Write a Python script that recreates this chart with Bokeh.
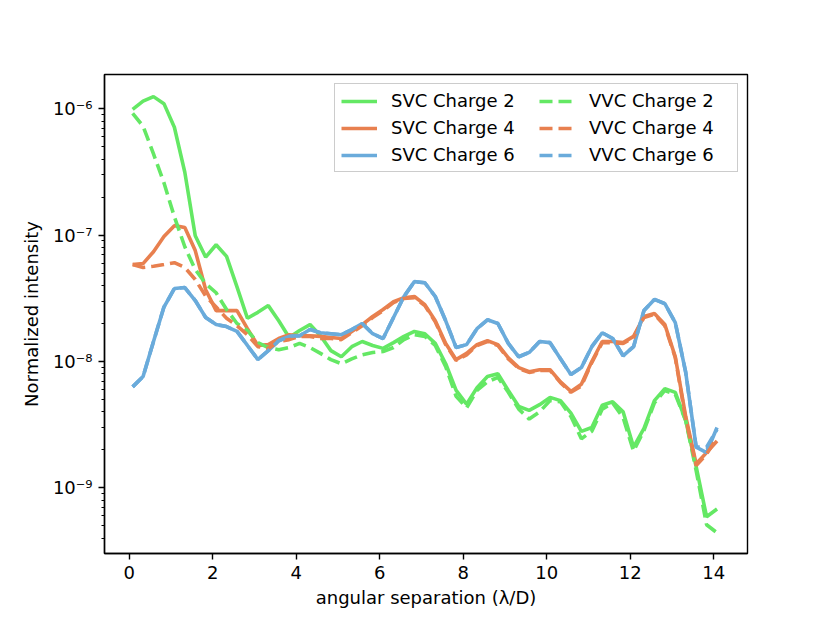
from bokeh.plotting import figure
from bokeh.models import Range1d, FixedTicker, CustomJSTickFormatter, Legend, LegendItem
from bokeh.embed import file_html
from bokeh.resources import INLINE

# angular separation (lambda/D)
x = [0.08, 0.33, 0.58, 0.83, 1.08, 1.33, 1.58, 1.83, 2.08, 2.33,
     2.58, 2.83, 3.08, 3.33, 3.58, 3.83, 4.08, 4.33, 4.58, 4.83,
     5.08, 5.33, 5.58, 5.83, 6.08, 6.33, 6.58, 6.83, 7.08, 7.33,
     7.58, 7.83, 8.08, 8.33, 8.58, 8.83, 9.08, 9.33, 9.58, 9.83,
     10.08, 10.33, 10.58, 10.83, 11.08, 11.33, 11.58, 11.83, 12.08, 12.33,
     12.58, 12.83, 13.08, 13.33, 13.58, 13.83, 14.08]

svc2 = [9.9e-7, 1.15e-6, 1.25e-6, 1.1e-6, 7.15e-7, 3.15e-7, 9.9e-8, 6.7e-8, 8.4e-8, 6.8e-8,
        3.9e-8, 2.2e-8, 2.45e-8, 2.77e-8, 2.1e-8, 1.55e-8, 1.76e-8, 1.96e-8, 1.6e-8, 1.22e-8,
        1.09e-8, 1.31e-8, 1.44e-8, 1.34e-8, 1.27e-8, 1.41e-8, 1.58e-8, 1.73e-8, 1.66e-8, 1.39e-8,
        9.6e-9, 5.9e-9, 4.6e-9, 6.2e-9, 7.6e-9, 8.0e-9, 5.9e-9, 4.4e-9, 4.1e-9, 4.55e-9,
        5.2e-9, 4.9e-9, 3.9e-9, 2.8e-9, 3.0e-9, 4.5e-9, 4.8e-9, 4.0e-9, 2.1e-9, 2.95e-9,
        4.9e-9, 6.1e-9, 5.7e-9, 3.4e-9, 1.47e-9, 5.9e-10, 6.8e-10]

svc4 = [5.85e-8, 5.96e-8, 7.4e-8, 9.75e-8, 1.19e-7, 1.15e-7, 7.55e-8, 3.7e-8, 2.53e-8, 2.53e-8,
        2.53e-8, 1.82e-8, 1.34e-8, 1.36e-8, 1.52e-8, 1.63e-8, 1.6e-8, 1.6e-8, 1.58e-8, 1.55e-8,
        1.52e-8, 1.73e-8, 1.96e-8, 2.27e-8, 2.58e-8, 2.98e-8, 3.2e-8, 3.27e-8, 2.82e-8, 2.1e-8,
        1.39e-8, 1.035e-8, 1.16e-8, 1.36e-8, 1.46e-8, 1.36e-8, 1.07e-8, 8.95e-9, 8.3e-9, 8.6e-9,
        8.6e-9, 6.9e-9, 5.8e-9, 6.6e-9, 1.0e-8, 1.44e-8, 1.44e-8, 1.41e-8, 1.58e-8, 2.27e-8,
        2.4e-8, 1.96e-8, 1.09e-8, 3.67e-9, 1.55e-9, 1.9e-9, 2.35e-9]

svc6 = [6.3e-9, 7.6e-9, 1.44e-8, 2.7e-8, 3.78e-8, 3.85e-8, 3.04e-8, 2.23e-8, 1.96e-8, 1.89e-8,
        1.73e-8, 1.34e-8, 1.035e-8, 1.22e-8, 1.46e-8, 1.58e-8, 1.6e-8, 1.79e-8, 1.69e-8, 1.66e-8,
        1.63e-8, 1.79e-8, 2.0e-8, 1.66e-8, 1.52e-8, 2.23e-8, 3.27e-8, 4.29e-8, 4.2e-8, 3.27e-8,
        2.1e-8, 1.29e-8, 1.36e-8, 1.82e-8, 2.14e-8, 2.0e-8, 1.39e-8, 1.09e-8, 1.18e-8, 1.44e-8,
        1.41e-8, 1.05e-8, 7.9e-9, 8.95e-9, 1.31e-8, 1.69e-8, 1.52e-8, 1.11e-8, 1.31e-8, 2.53e-8,
        3.1e-8, 2.87e-8, 2.03e-8, 8.2e-9, 2.1e-9, 1.9e-9, 3.0e-9]

vvc2 = [9.2e-7, 7.3e-7, 4.4e-7, 2.6e-7, 1.4e-7, 8.1e-8, 5.34e-8, 4.14e-8, 3.5e-8, 2.58e-8,
        2.0e-8, 1.76e-8, 1.41e-8, 1.29e-8, 1.24e-8, 1.29e-8, 1.39e-8, 1.29e-8, 1.16e-8, 1.035e-8,
        9.6e-9, 1.05e-8, 1.13e-8, 1.18e-8, 1.2e-8, 1.29e-8, 1.49e-8, 1.63e-8, 1.58e-8, 1.34e-8,
        9.1e-9, 5.3e-9, 4.3e-9, 5.9e-9, 6.9e-9, 7.5e-9, 5.7e-9, 4.2e-9, 3.5e-9, 4.0e-9,
        4.9e-9, 4.8e-9, 3.67e-9, 2.45e-9, 2.8e-9, 4.2e-9, 4.7e-9, 3.6e-9, 1.95e-9, 2.85e-9,
        4.7e-9, 5.9e-9, 5.5e-9, 3.4e-9, 1.37e-9, 5.1e-10, 4.4e-10]

vvc4 = [5.85e-8, 5.55e-8, 5.67e-8, 5.85e-8, 6.06e-8, 5.55e-8, 4.46e-8, 3.29e-8, 2.7e-8, 2.2e-8,
        1.92e-8, 1.63e-8, 1.31e-8, 1.27e-8, 1.44e-8, 1.49e-8, 1.58e-8, 1.58e-8, 1.52e-8, 1.52e-8,
        1.49e-8, 1.69e-8, 1.92e-8, 2.23e-8, 2.53e-8, 2.93e-8, 3.15e-8, 3.2e-8, 2.77e-8, 2.06e-8,
        1.36e-8, 1.02e-8, 1.13e-8, 1.34e-8, 1.44e-8, 1.34e-8, 1.05e-8, 8.8e-9, 8.2e-9, 8.5e-9,
        8.5e-9, 6.8e-9, 5.7e-9, 6.4e-9, 9.8e-9, 1.41e-8, 1.41e-8, 1.39e-8, 1.55e-8, 2.23e-8,
        2.36e-8, 1.92e-8, 1.07e-8, 3.5e-9, 1.5e-9, 1.85e-9, 2.5e-9]

vvc6 = [6.3e-9, 7.6e-9, 1.44e-8, 2.7e-8, 3.78e-8, 3.85e-8, 3.04e-8, 2.23e-8, 1.96e-8, 1.89e-8,
        1.73e-8, 1.34e-8, 1.035e-8, 1.22e-8, 1.46e-8, 1.58e-8, 1.6e-8, 1.79e-8, 1.69e-8, 1.66e-8,
        1.63e-8, 1.79e-8, 2.0e-8, 1.66e-8, 1.52e-8, 2.23e-8, 3.27e-8, 4.29e-8, 4.2e-8, 3.27e-8,
        2.1e-8, 1.29e-8, 1.36e-8, 1.82e-8, 2.14e-8, 2.0e-8, 1.39e-8, 1.09e-8, 1.18e-8, 1.44e-8,
        1.41e-8, 1.05e-8, 7.9e-9, 8.95e-9, 1.31e-8, 1.69e-8, 1.52e-8, 1.11e-8, 1.31e-8, 2.53e-8,
        3.1e-8, 2.87e-8, 2.03e-8, 8.2e-9, 2.1e-9, 2.1e-9, 2.9e-9]

labels = ["SVC Charge 2", "SVC Charge 4", "SVC Charge 6",
          "VVC Charge 2", "VVC Charge 4", "VVC Charge 6"]
series = [svc2, svc4, svc6, vvc2, vvc4, vvc6]
colors = ["#64e864", "#e8804f", "#6aabdb", "#64e864", "#e8804f", "#6aabdb"]
dashes = ["solid", "solid", "solid", "13 6", "13 6", "13 6"]

major_ticks = [1e-9, 1e-8, 1e-7, 1e-6]
minor_ticks = [m * 10.0 ** k for k in range(-10, -5) for m in range(2, 10)]
x_ticks = [0, 2, 4, 6, 8, 10, 12, 14]

FONT = "DejaVu Sans"

p = figure(width=822, height=615, y_axis_type="log",
           x_range=Range1d(-0.594, 14.81), y_range=Range1d(3.02e-10, 1.871e-6),
           output_backend="svg", toolbar_location=None,
           min_border_left=104, min_border_right=75, min_border_top=74, min_border_bottom=62)
p.title.visible = False
p.xgrid.visible = False
p.ygrid.visible = False
p.outline_line_color = "black"
p.outline_line_width = 1.4
p.background_fill_color = "white"
p.border_fill_color = "white"

renderers = []
for ys, c, d in zip(series, colors, dashes):
    r = p.line(x, ys, line_color=c, line_width=3.6, line_dash=d)
    renderers.append(r)

p.xaxis.ticker = FixedTicker(ticks=x_ticks)
p.yaxis.ticker = FixedTicker(ticks=major_ticks, minor_ticks=minor_ticks)
p.yaxis.formatter = CustomJSTickFormatter(code="""
const e = Math.round(Math.log10(tick));
const sup = {"-": "\u207b", "0": "\u2070", "1": "\u00b9", "2": "\u00b2", "3": "\u00b3",
             "4": "\u2074", "5": "\u2075", "6": "\u2076", "7": "\u2077", "8": "\u2078", "9": "\u2079"};
return "10" + String(e).split("").map(c => sup[c]).join("");
""")

for ax in (p.xaxis[0], p.yaxis[0]):
    ax.axis_line_color = "black"
    ax.axis_line_width = 1.4
    ax.major_tick_line_color = "black"
    ax.major_tick_line_width = 1.4
    ax.major_tick_in = 0
    ax.major_tick_out = 6
    ax.minor_tick_line_color = "black"
    ax.minor_tick_line_width = 1.1
    ax.minor_tick_in = 0
    ax.minor_tick_out = 3
    ax.major_label_text_font = FONT
    ax.major_label_text_font_size = "18px"
    ax.major_label_text_color = "black"
    ax.major_label_standoff = 6
    ax.axis_label_text_font = FONT
    ax.axis_label_text_font_size = "18px"
    ax.axis_label_text_font_style = "normal"
    ax.axis_label_text_color = "black"

p.xaxis.minor_tick_line_color = None
p.xaxis.axis_label = "angular separation (λ/D)"
p.xaxis.axis_label_standoff = 5
p.yaxis.axis_label = "Normalized intensity"
p.yaxis.axis_label_standoff = 8

items = [LegendItem(label=l, renderers=[r]) for l, r in zip(labels, renderers)]
legend = Legend(items=items, ncols=2, orientation="vertical", location="top_right",
                margin=9, padding=6, spacing=6,
                glyph_width=36, glyph_height=18, label_height=18, label_width=142,
                label_standoff=14,
                label_text_font=FONT, label_text_font_size="18px", label_text_color="black",
                border_line_color="#cccccc", border_line_width=1.4, border_line_alpha=1.0,
                background_fill_color="white", background_fill_alpha=0.8)
p.add_layout(legend)

open("out.html", "w").write(file_html(p, INLINE))
